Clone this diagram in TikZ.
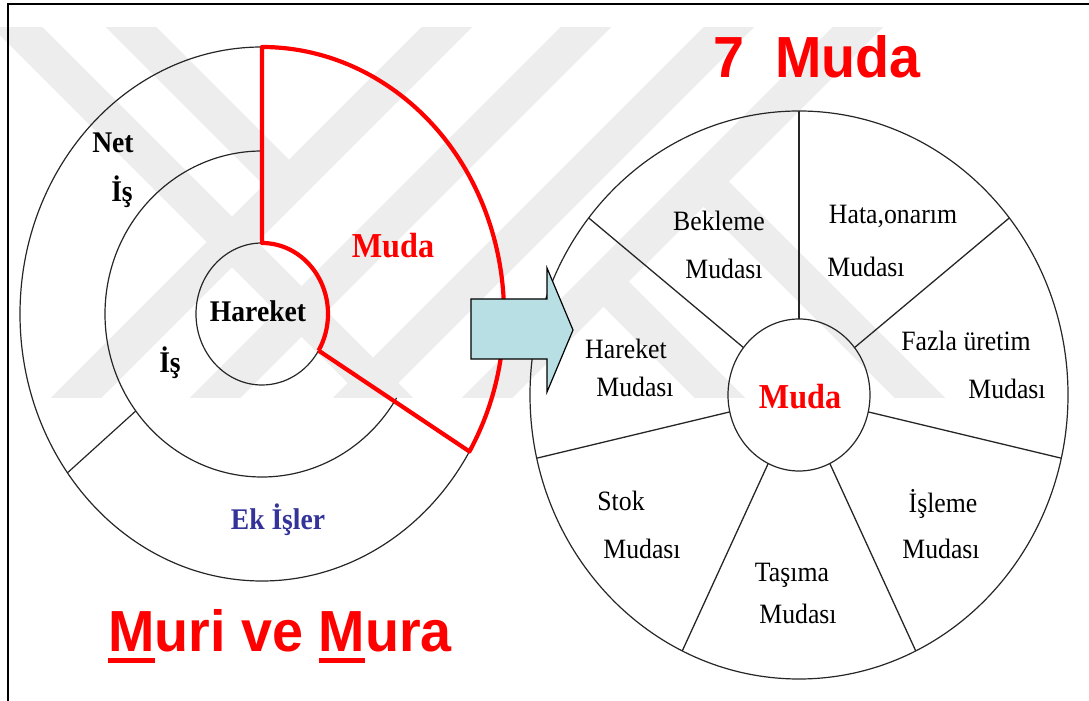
\documentclass[tikz,border=0pt]{standalone}
\usepackage{fontspec}
\setmainfont[FakeStretch=0.92]{Liberation Serif}
\setsansfont[FakeStretch=0.96]{Liberation Sans}
\usetikzlibrary{calc}
\definecolor{mudared}{RGB}{255,0,0}
\definecolor{ekblue}{RGB}{51,51,153}
\definecolor{okfill}{RGB}{184,223,227}
\definecolor{wmgray}{RGB}{237,237,237}
\newcommand{\ulm}[1]{\setbox0=\hbox{#1}\rlap{\rule[-11pt]{\wd0}{5pt}}#1}
\begin{document}
\begin{tikzpicture}[x=1pt,y=1pt,
    ring/.style={line width=1.2pt,black!85},
    mudaline/.style={line width=4.2pt,mudared,line join=round},
    spoke/.style={line width=1.3pt,black!85},
    band/.style={line width=36pt,wmgray},
    lbl/.style={inner sep=0pt,anchor=base,font=\fontsize{28}{28}\selectfont},
    boldlbl/.style={inner sep=0pt,anchor=base,font=\fontsize{30}{30}\selectfont\bfseries},
    redlbl/.style={inner sep=0pt,anchor=base,text=mudared,font=\fontsize{35}{35}\selectfont\bfseries},
    title/.style={inner sep=0pt,anchor=base,text=mudared,font=\fontsize{58}{58}\selectfont\sffamily\bfseries}]
  \useasboundingbox (0,0) rectangle (1089,701);
  \begin{scope}
    \clip (0,303) rectangle (1089,673);
    \foreach \xb in {76,215,358,487}
      \draw[band] (\xb-30,273) -- (\xb+400,703);
    \draw[band] (-12,703) -- (418,273);
    \draw[band] (102,703) -- (289,516);
    \draw[band] (703.5,519.5) -- (950,273);
    \draw[band] (603.5,419.5) -- (750,273);
  \end{scope}
  \draw[line width=1.6pt] (1089,697) -- (8,697) -- (8,0);

  \coordinate (L) at (262,387);
  \draw[ring] (L) ++(90:242 and 267) arc[start angle=90,end angle=329,x radius=242,y radius=267];
  \draw[ring] (L) ++(90:157 and 163) arc[start angle=90,end angle=329,x radius=157,y radius=163];
  \draw[ring] (L) ++(90:66 and 71) arc[start angle=90,end angle=329,x radius=66,y radius=71];
  \coordinate (eka) at ($(L)+(216.5:157 and 163)$);
  \coordinate (ekb) at ($(L)+(216.5:242 and 267)$);
  \draw[ring] (eka) -- (ekb);
  \coordinate (mudain) at ($(L)+(-31:66 and 71)$);
  \coordinate (mudaout) at ($(L)+(-31:242 and 267)$);
  \coordinate (mudatop) at ($(L)+(90:66 and 71)$);
  \draw[mudaline] (mudain) -- (mudaout)
    arc[start angle=-31,end angle=90,x radius=242,y radius=267] -- (mudatop)
    arc[start angle=90,end angle=-31,x radius=66,y radius=71];

  \node[boldlbl] (net) at (113,548) {Net};
  \node[boldlbl] (netis) at (122,499) {İş};
  \node[boldlbl] (is) at (170,328) {İş};
  \node[boldlbl] (hareket) at (258,379) {Hareket};
  \node[redlbl] (mudaleft) at (393,443) {Muda};
  \node[boldlbl,text=ekblue] (ekisler) at (278,171) {Ek İşler};
  \node[title] (muri) at (280,49) {\ulm{M}uri ve \ulm{M}ura};
  \node[title] (yedi) at (817,623) {7~~Muda};

  \coordinate (R) at (799,306);
  \draw[ring] (R) ellipse[x radius=269,y radius=284];
  \draw[ring] (R) ellipse[x radius=71,y radius=76];
  \foreach \k in {0,...,6}
    \draw[spoke] ($(R)+({90-\k*360/7}:71 and 76)$) -- ($(R)+({90-\k*360/7}:269 and 284)$);

  \draw[line width=1.2pt,fill=okfill] (471,402) -- (547,402) -- (547,433) -- (573,371)
    -- (547,309) -- (547,342) -- (471,342) -- cycle;

  \node[redlbl] (mudaright) at (800,292) {Muda};
  \node[lbl] (bekleme1) at (719,470) {Bekleme};
  \node[lbl] (bekleme2) at (724,422) {Mudası};
  \node[lbl] (hata1) at (893,477) {Hata,onarım};
  \node[lbl] (hata2) at (866,424) {Mudası};
  \node[lbl] (fazla1) at (966,350) {Fazla üretim};
  \node[lbl] (fazla2) at (1007,302) {Mudası};
  \node[lbl] (harmuda1) at (626,342) {Hareket};
  \node[lbl] (harmuda2) at (635,304) {Mudası};
  \node[lbl] (stok1) at (621,190) {Stok};
  \node[lbl] (stok2) at (642,142) {Mudası};
  \node[lbl] (tasima1) at (792,119) {Taşıma};
  \node[lbl] (tasima2) at (798,77) {Mudası};
  \node[lbl] (isleme1) at (943,188) {İşleme};
  \node[lbl] (isleme2) at (941,142) {Mudası};
\end{tikzpicture}
\end{document}
